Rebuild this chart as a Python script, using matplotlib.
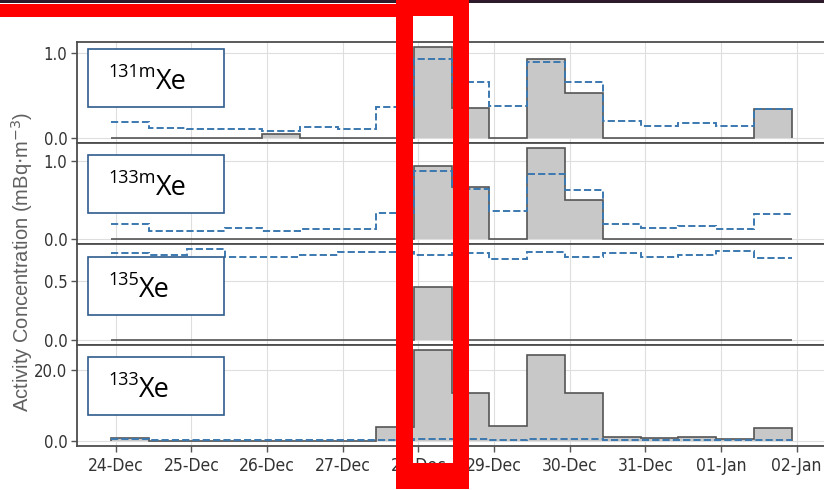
import datetime as dt

import numpy as np
import matplotlib
matplotlib.use("Agg")
import matplotlib.pyplot as plt
import matplotlib.dates as mdates
from matplotlib.patches import Rectangle

W, H = 824, 490

# 12-hour sampling periods, 23 Dec 22:30 -> 01 Jan 22:30
start = dt.datetime(2020, 12, 23, 22, 30)
edges = [start + dt.timedelta(hours=12 * i) for i in range(19)]

# measured activity concentration (mBq/m3) and MDC per sample
xe131m = [0, 0, 0, 0, 0.05, 0, 0, 0, 1.07, 0.36, 0, 0.93, 0.53, 0, 0, 0, 0, 0.345]
xe131m_mdc = [0.19, 0.12, 0.11, 0.11, 0.09, 0.13, 0.115, 0.365, 0.93, 0.66,
              0.38, 0.89, 0.66, 0.20, 0.15, 0.18, 0.14, 0.345]
xe133m = [0, 0, 0, 0, 0, 0, 0, 0, 0.94, 0.67, 0, 1.17, 0.50, 0, 0, 0, 0, 0]
xe133m_mdc = [0.19, 0.11, 0.11, 0.145, 0.105, 0.127, 0.127, 0.34, 0.87, 0.64,
              0.36, 0.83, 0.63, 0.19, 0.145, 0.17, 0.13, 0.33]
xe135 = [0, 0, 0, 0, 0, 0, 0, 0, 0.455, 0, 0, 0, 0, 0, 0, 0, 0, 0]
xe135_mdc = [0.735, 0.72, 0.776, 0.704, 0.704, 0.726, 0.75, 0.75, 0.72, 0.735,
             0.684, 0.75, 0.704, 0.74, 0.704, 0.726, 0.754, 0.70]
xe133 = [0.9, 0, 0, 0, 0, 0, 0, 3.9, 25.6, 13.4, 4.4, 24.0, 13.4, 1.3, 1.0,
         1.1, 0.65, 3.6]
xe133_mdc = [0.7, 0.4, 0.4, 0.4, 0.4, 0.4, 0.4, 0.5, 0.8, 0.8, 0.5, 0.8, 0.8,
             0.5, 0.4, 0.4, 0.3, 0.5]

isotopes = [("131m", xe131m, xe131m_mdc, [0.0, 1.0]),
            ("133m", xe133m, xe133m_mdc, [0.0, 1.0]),
            ("135", xe135, xe135_mdc, [0.0, 0.5]),
            ("133", xe133, xe133_mdc, [0.0, 20.0])]

TICKFONT = dict(family="DejaVu Sans", stretch="condensed", color="#333333")
DARK = "#555555"
BLUE = "#3b78b0"

fig, axes = plt.subplots(4, 1, sharex=True, figsize=(W / 100, H / 100), dpi=100,
                         gridspec_kw={"hspace": 0})
fig.subplots_adjust(left=77 / W, right=826 / W, top=1 - 42 / H, bottom=1 - 446 / H)

pad = dt.timedelta(days=0.45)
for ax, (name, act, mdc, yt) in zip(axes, isotopes):
    ax.stairs(act, edges, baseline=0, fill=True, facecolor="#c8c8c8",
              edgecolor=DARK, linewidth=1.2, zorder=2)
    ax.stairs(mdc, edges, baseline=None, color=BLUE, linestyle="--",
              linewidth=1.4, zorder=3)
    hi = max(max(act), max(mdc))
    ax.set_ylim(-0.05 * hi, 1.05 * hi)
    ax.set_yticks(yt)
    ax.set_yticklabels([f"{v:.1f}" for v in yt], fontsize=12, **TICKFONT)
    ax.grid(True, color="#dedede", linewidth=0.8)
    ax.set_axisbelow(True)
    for s in ax.spines.values():
        s.set_color("#4d4d4d")
        s.set_linewidth(1.3)
    ax.tick_params(direction="out", length=4, width=1, color=DARK, pad=3)

ax = axes[-1]
ax.set_xlim(edges[0] - pad, edges[-1] + pad)
ax.xaxis.set_major_locator(mdates.DayLocator())
ax.xaxis.set_major_formatter(mdates.DateFormatter("%d-%b"))
for lab in ax.get_xticklabels():
    lab.set_fontsize(12.5)
    lab.set_family("DejaVu Sans")
    lab.set_stretch("condensed")
    lab.set_color("#333333")
ax.tick_params(axis="x", pad=4)

fig.text(22 / W, 1 - 262 / H, r"Activity Concentration (mBq$\cdot$m$^{-3}$)",
         rotation=90, ha="center", va="center", fontsize=14.5,
         family="Liberation Sans", color="#606060")

# isotope labels
box_tops = [49, 155, 257, 357]
fig.canvas.draw()
renderer = fig.canvas.get_renderer()
for (name, *_), top in zip(isotopes, box_tops):
    fig.patches.append(Rectangle((88 / W, 1 - (top + 58) / H), 136 / W, 58 / H,
                                 transform=fig.transFigure, facecolor="white",
                                 edgecolor="#2f5b8c", linewidth=1.2, zorder=10))
    sup = fig.text(108 / W, 1 - (top + 28) / H, name, va="baseline", ha="left",
                   fontsize=13, family="Open Sans", zorder=11)
    bb = sup.get_window_extent(renderer)
    fig.text(bb.x1 / W, 1 - (top + 40) / H, "Xe", va="baseline", ha="left",
             fontsize=19.5, family="Open Sans", zorder=11)

# highlight frame and header bar
def box(x0, y0, x1, y1, color):
    fig.patches.append(Rectangle((x0 / W, 1 - y1 / H), (x1 - x0) / W,
                                 (y1 - y0) / H, transform=fig.transFigure,
                                 facecolor=color, edgecolor="none", zorder=20))

box(0, 0, W, 3, "#2d1b2b")
box(0, 4, 400, 17, "#ff0000")
box(396, 0, 413, 489, "#ff0000")
box(453, 0, 469, 489, "#ff0000")
box(396, 0, 469, 16, "#ff0000")
box(396, 463, 469, 489, "#ff0000")

fig.savefig("out.png", dpi=100)
